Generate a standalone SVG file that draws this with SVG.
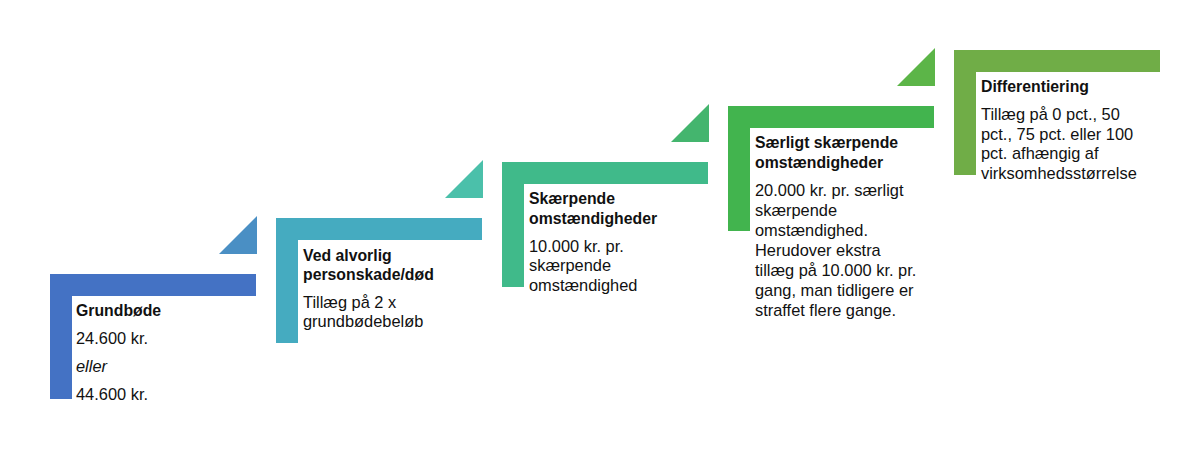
<svg xmlns="http://www.w3.org/2000/svg" width="1204" height="461" viewBox="0 0 1204 461">
<style>
text { font-family: "Liberation Sans", Arial, sans-serif; font-size: 16.4px; fill: #111111; }
.t { font-weight: bold; font-size: 15.8px; }
.i { font-style: italic; }
</style>
<rect width="1204" height="461" fill="#ffffff"/>
<g id="connectors">
<polygon points="219,254 257,254 257,216" fill="#4a8fc4"/>
<polygon points="445,198 483,198 483,160" fill="#4bc0aa"/>
<polygon points="671,142 709,142 709,104" fill="#44b56e"/>
<polygon points="897,86 935,86 935,48" fill="#5cb548"/>
</g>
<g id="node1">
<path d="M50,274 H256 V296 H72 V399 H50 Z" fill="#4472c4"/>
<text x="76" y="316" class="t">Grundbøde</text>
<text x="76" y="344">24.600 kr.</text>
<text x="76" y="372" class="i">eller</text>
<text x="76" y="400">44.600 kr.</text>
</g>
<g id="node2">
<path d="M276,218 H482 V240 H298 V343 H276 Z" fill="#45abc0"/>
<text x="303" y="261" class="t">Ved alvorlig</text>
<text x="303" y="280" class="t">personskade/død</text>
<text x="303" y="308">Tillæg på 2 x</text>
<text x="303" y="327">grundbødebeløb</text>
</g>
<g id="node3">
<path d="M502,162 H708 V184 H524 V287 H502 Z" fill="#40ba8a"/>
<text x="529" y="204" class="t">Skærpende</text>
<text x="529" y="223.5" class="t">omstændigheder</text>
<text x="529" y="251.5">10.000 kr. pr.</text>
<text x="529" y="271">skærpende</text>
<text x="529" y="290.5">omstændighed</text>
</g>
<g id="node4">
<path d="M728,106 H934 V128 H750 V231 H728 Z" fill="#42b44e"/>
<text x="755" y="148" class="t">Særligt skærpende</text>
<text x="755" y="167.5" class="t">omstændigheder</text>
<text x="755" y="195.5">20.000 kr. pr. særligt</text>
<text x="755" y="215.5">skærpende</text>
<text x="755" y="235.5">omstændighed.</text>
<text x="755" y="255.5">Herudover ekstra</text>
<text x="755" y="275.5">tillæg på 10.000 kr. pr.</text>
<text x="755" y="295.5">gang, man tidligere er</text>
<text x="755" y="315.5">straffet flere gange.</text>
</g>
<g id="node5">
<path d="M954,50 H1160 V72 H976 V175 H954 Z" fill="#70ad47"/>
<text x="981" y="92" class="t">Differentiering</text>
<text x="981" y="120">Tillæg på 0 pct., 50</text>
<text x="981" y="139.5">pct., 75 pct. eller 100</text>
<text x="981" y="159">pct. afhængig af</text>
<text x="981" y="178.5">virksomhedsstørrelse</text>
</g>
</svg>
